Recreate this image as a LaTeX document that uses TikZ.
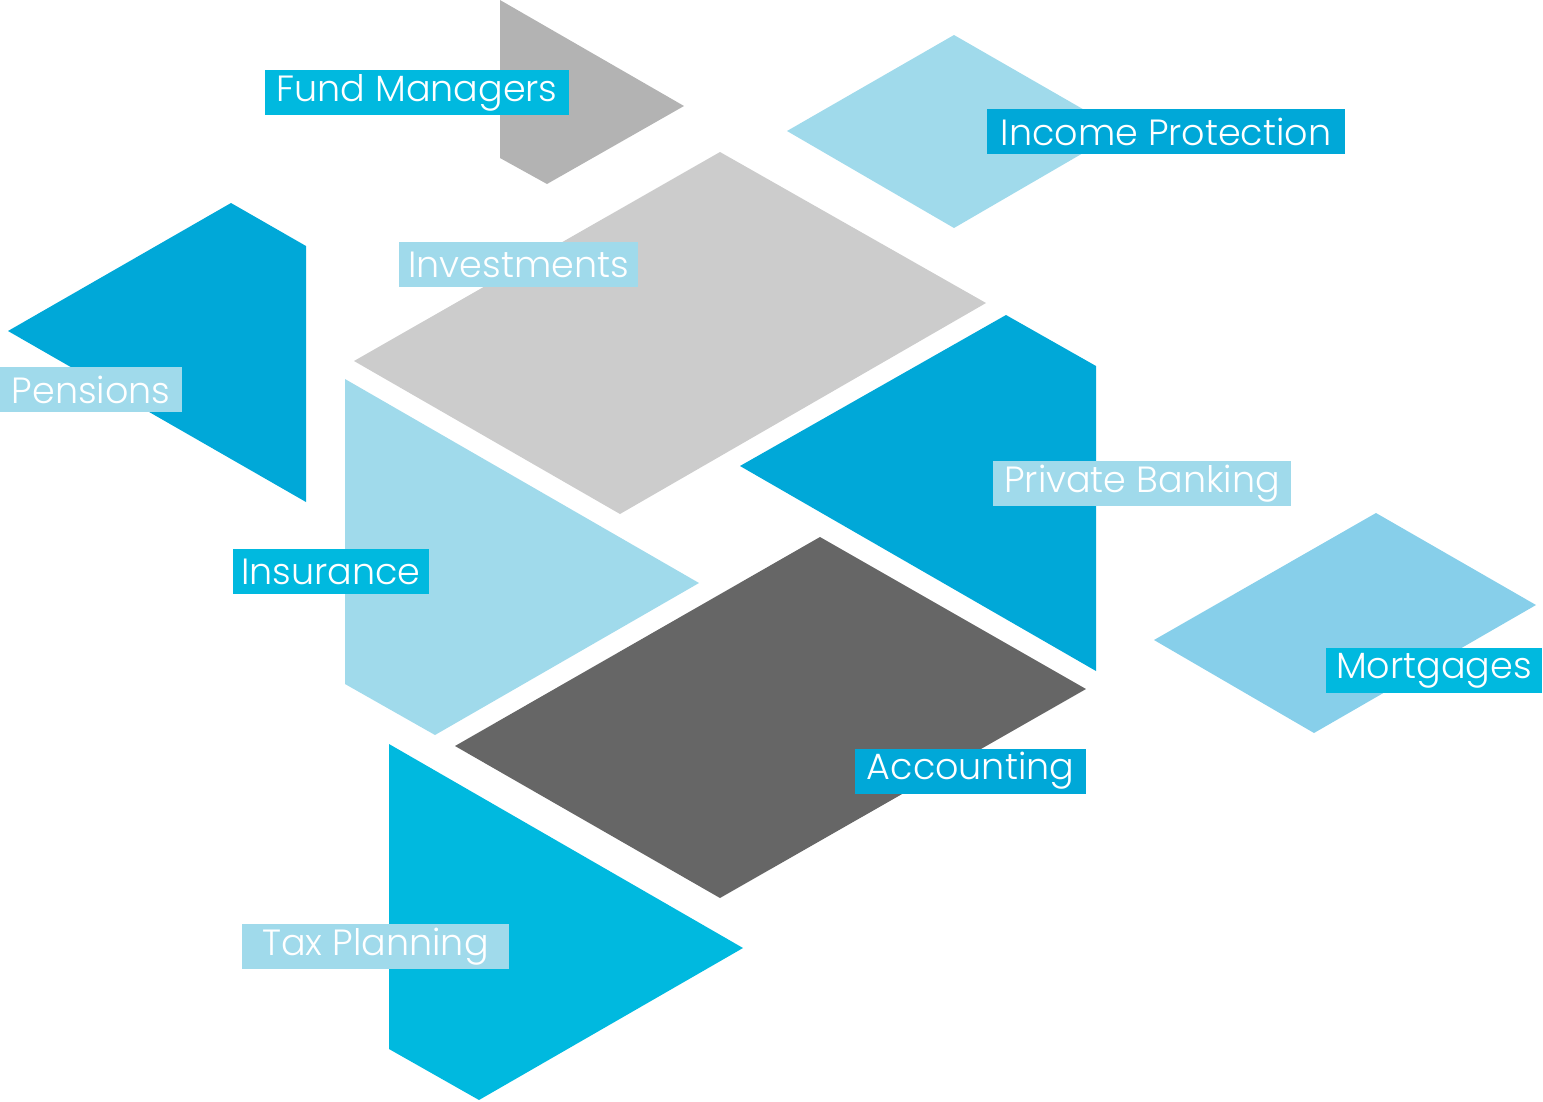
\documentclass[tikz,border=0pt]{standalone}
\usepackage{fontspec}
\setmainfont{Poppins}[UprightFont=* Light]
\usepackage{tikz}
\usetikzlibrary{positioning}
\definecolor{tilegray}{HTML}{B3B3B3}
\definecolor{tilesilver}{HTML}{CCCCCC}
\definecolor{tiledark}{HTML}{666666}
\definecolor{lightblue}{HTML}{A0DAEB}
\definecolor{midblue}{HTML}{87CFEA}
\definecolor{deepblue}{HTML}{00A8D8}
\definecolor{cyanblue}{HTML}{00B9DF}
\tikzset{
  % flat isometric tile
  tile/.style={fill=#1, draw=none},
  % caption box on a tile
  tag/.style={rectangle, fill=#1, text=white, inner sep=0pt,
              minimum height=45pt,
              font=\fontsize{36.5}{36.5}\selectfont},
}

\begin{document}
\begin{tikzpicture}[x=1pt,y=-1pt]
  \useasboundingbox (0,0) rectangle (1543,1101);
  % tiles
  \fill[tile=tilegray]   (500,0) -- (684,106) -- (547,184) -- (500,158) -- cycle;
  \fill[tile=lightblue]  (954,35) -- (1121,131) -- (954,228) -- (787,131) -- cycle;
  \fill[tile=tilesilver] (720,152) -- (986,303) -- (620,514) -- (354,361) -- cycle;
  \fill[tile=deepblue]   (8,331) -- (231,203) -- (306,246) -- (306,502) -- cycle;
  \fill[tile=lightblue]  (345,379) -- (699,583) -- (435,735) -- (345,684) -- cycle;
  \fill[tile=deepblue]   (740,466) -- (1006,315) -- (1096,366) -- (1096,671) -- cycle;
  \fill[tile=midblue]    (1376,513) -- (1536,605) -- (1314,733) -- (1154,640) -- cycle;
  \fill[tile=tiledark]   (820,537) -- (1086,689) -- (720,898) -- (455,746) -- cycle;
  \fill[tile=cyanblue]   (389,744) -- (743,948) -- (479,1100) -- (389,1049) -- cycle;

  % captions
  \node[tag=cyanblue,  minimum width=304pt] (fund)    at (417,92.5)   {Fund Managers};
  \node[tag=deepblue,  minimum width=358pt] (income)  at (1166,131.5) {Income Protection};
  \node[tag=lightblue, minimum width=239pt] (invest)  at (518.5,264.5) {Investments};
  \node[tag=lightblue, minimum width=182pt] (pension) at (91,389.5)   {Pensions};
  \node[tag=lightblue, minimum width=298pt] (private) at (1142,483.5) {Private Banking};
  \node[tag=cyanblue,  minimum width=196pt] (insure)  at (331,571.5)  {Insurance};
  \node[tag=cyanblue,  minimum width=216pt] (mortg)   at (1434,670.5) {Mortgages};
  \node[tag=deepblue,  minimum width=231pt] (account) at (970.5,771)  {Accounting};
  \node[tag=lightblue, minimum width=267pt] (tax)     at (375.5,946.5) {Tax Planning};
\end{tikzpicture}
\end{document}
